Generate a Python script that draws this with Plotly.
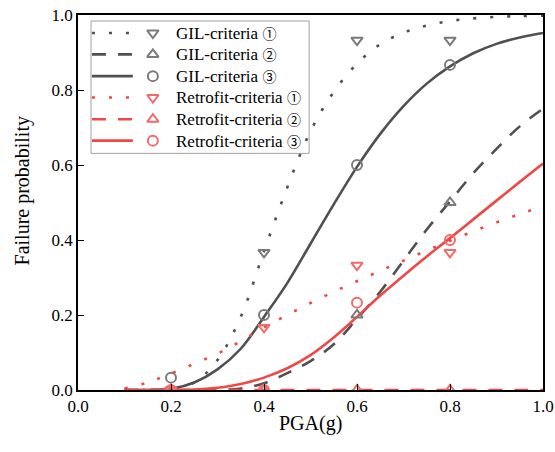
import plotly.graph_objects as go

# ---- fitted fragility curves (PGA in g -> failure probability) ----
pga_curve = [0.10, 0.15, 0.20, 0.25, 0.30, 0.35, 0.40, 0.45, 0.50, 0.55,
             0.60, 0.65, 0.70, 0.75, 0.80, 0.85, 0.90, 0.95, 1.00]

gil_1_curve = [0.0, 0.0, 0.002, 0.02, 0.08, 0.195, 0.37, 0.54, 0.69, 0.795,
               0.87, 0.922, 0.953, 0.972, 0.984, 0.991, 0.995, 0.997, 0.998]
gil_2_curve = [0.0, 0.0, 0.0, 0.0, 0.0, 0.004, 0.018, 0.045, 0.077, 0.122,
               0.19, 0.262, 0.345, 0.428, 0.503, 0.578, 0.643, 0.703, 0.75]
gil_3_curve = [0.0, 0.0, 0.003, 0.02, 0.055, 0.11, 0.195, 0.285, 0.39, 0.495,
               0.595, 0.683, 0.757, 0.817, 0.863, 0.898, 0.923, 0.94, 0.952]
ret_1_curve = [0.004, 0.02, 0.044, 0.07, 0.097, 0.13, 0.167, 0.2, 0.232, 0.262,
               0.29, 0.318, 0.345, 0.372, 0.398, 0.423, 0.447, 0.469, 0.49]
ret_2_curve = [0.0] * 19
ret_3_curve = [0.0, 0.0, 0.0, 0.001, 0.006, 0.016, 0.033, 0.058, 0.093, 0.14,
               0.195, 0.252, 0.305, 0.356, 0.405, 0.455, 0.505, 0.555, 0.604]

# ---- observed failure ratios ----
pga_obs = [0.2, 0.4, 0.6, 0.8]
gil_1_obs = [0.0, 0.367, 0.933, 0.933]
gil_2_obs = [0.0, 0.0, 0.2, 0.5]
gil_3_obs = [0.033, 0.2, 0.6, 0.867]
ret_1_obs = [0.0, 0.167, 0.333, 0.367]
ret_2_obs = [0.0, 0.0, 0.0, 0.0]
ret_3_obs = [0.0, 0.0, 0.233, 0.4]

x_ticks = [0.0, 0.2, 0.4, 0.6, 0.8, 1.0]
y_ticks = [0.0, 0.2, 0.4, 0.6, 0.8, 1.0]

CJK = "font-family:'Noto Sans CJK SC';font-size:14px"
digits = ["\u2460", "\u2461", "\u2462"]
names = [f"GIL-criteria <span style=\"{CJK}\">{d}</span>" for d in digits] + \
        [f"Retrofit-criteria <span style=\"{CJK}\">{d}</span>" for d in digits]

GRAY_LINE = "#505050"
GRAY_MARK = "#7a7a7a"
RED_LINE = "#ef4848"
RED_MARK = "#f26a6a"
DOT = "3px,14px"
DASH = "14px,12px"
FONT = "Liberation Serif"

series = [
    (gil_1_curve, gil_1_obs, GRAY_LINE, GRAY_MARK, DOT, "triangle-down-open"),
    (gil_2_curve, gil_2_obs, GRAY_LINE, GRAY_MARK, DASH, "triangle-up-open"),
    (gil_3_curve, gil_3_obs, GRAY_LINE, GRAY_MARK, "solid", "circle-open"),
    (ret_1_curve, ret_1_obs, RED_LINE, RED_MARK, DOT, "triangle-down-open"),
    (ret_2_curve, ret_2_obs, RED_LINE, RED_MARK, DASH, "triangle-up-open"),
    (ret_3_curve, ret_3_obs, RED_LINE, RED_MARK, "solid", "circle-open"),
]

fig = go.Figure()

for curve, obs, lc, mc, dash, sym in series:
    fig.add_trace(go.Scatter(
        x=pga_curve, y=curve, mode="lines", line_shape="spline",
        line=dict(color=lc, width=2.6, dash=dash), showlegend=False,
        hoverinfo="skip"))
for curve, obs, lc, mc, dash, sym in series:
    fig.add_trace(go.Scatter(
        x=pga_obs, y=obs, mode="markers",
        marker=dict(symbol=sym, size=10, color=mc, line=dict(color=mc, width=2)),
        showlegend=False))

# ---- hand-drawn legend (line sample, marker, label) ----
box_x0, box_x1 = 0.028, 0.497
box_y0, box_y1 = 0.631, 0.984
row_y = [0.952, 0.895, 0.837, 0.780, 0.722, 0.665]
line_x0, line_x1 = 0.030, 0.118
mark_x = 0.161
text_x = 0.206

shapes = [dict(type="rect", xref="paper", yref="paper",
               x0=box_x0, x1=box_x1, y0=box_y0, y1=box_y1,
               line=dict(color="#a0a0a0", width=1), fillcolor="white",
               layer="below")]
annotations = []
for (curve, obs, lc, mc, dash, sym), ry, name in zip(series, row_y, names):
    shapes.append(dict(type="line", xref="paper", yref="paper",
                       x0=line_x0, x1=line_x1, y0=ry, y1=ry,
                       line=dict(color=lc, width=2.6, dash=dash)))
    fig.add_trace(go.Scatter(
        x=[mark_x], y=[ry], xaxis="x2", yaxis="y2", mode="markers",
        marker=dict(symbol=sym, size=10, color=mc, line=dict(color=mc, width=2)),
        showlegend=False, hoverinfo="skip", cliponaxis=False))
    annotations.append(dict(x=text_x, y=ry, xref="paper", yref="paper",
                            text=name, showarrow=False, xanchor="left",
                            yanchor="middle",
                            font=dict(family=FONT, size=17, color="black")))

# axis titles
annotations.append(dict(x=0.501, y=-0.0895, xref="paper", yref="paper",
                        text="PGA(g)", showarrow=False, xanchor="center",
                        yanchor="middle",
                        font=dict(family=FONT, size=20, color="black")))
annotations.append(dict(x=-0.120, y=0.530, xref="paper", yref="paper",
                        text="Failure probability", showarrow=False,
                        textangle=-90, xanchor="center", yanchor="middle",
                        font=dict(family=FONT, size=20, color="black")))

axis_common = dict(showline=True, linecolor="black", linewidth=1.6, mirror=True,
                   ticks="inside", ticklen=6, tickwidth=1.4, tickcolor="black",
                   showgrid=False, zeroline=False, automargin=False,
                   tickfont=dict(family=FONT, size=17, color="black"))

fig.update_layout(
    width=555, height=452,
    margin=dict(l=78, r=12, t=15, b=62),
    plot_bgcolor="white", paper_bgcolor="white",
    xaxis=dict(range=[0, 1], tickvals=x_ticks, ticktext=[f"{v:.1f}" for v in x_ticks],
               **axis_common),
    yaxis=dict(range=[0, 1], tickvals=y_ticks, ticktext=[f"{v:.1f}" for v in y_ticks],
               **axis_common),
    xaxis2=dict(range=[0, 1], overlaying="x", visible=False, fixedrange=True),
    yaxis2=dict(range=[0, 1], overlaying="y", visible=False, fixedrange=True),
    shapes=shapes, annotations=annotations,
)

fig.write_html("out.html")
